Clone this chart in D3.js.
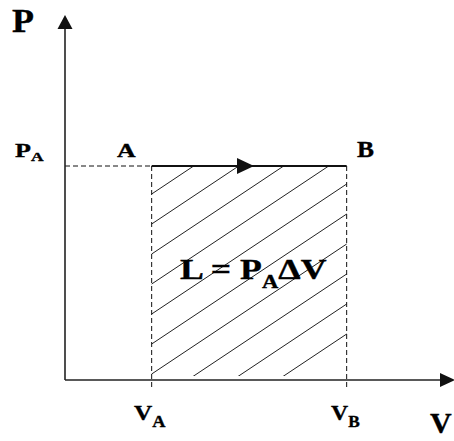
<!DOCTYPE html>
<html>
<head>
<meta charset="utf-8">
<script src="https://cdn.jsdelivr.net/npm/d3@7"></script>
<style>
  html, body { margin: 0; padding: 0; background: #fff; }
  svg { display: block; }
</style>
</head>
<body>
<svg id="chart" width="454" height="441"></svg>
<script>
// ---- data (unitless values) ----
const volumeNames = ["A", "B"];        // states
const volumeValues = [2, 6.5];         // V_A, V_B
const pressureValue = 4;               // P_A (isobaric process)
const axisMax = { v: 9, p: 6.82 };     // arrow tips
const hatchCount = 10;                 // diagonal hatch lines in the work area

const svg = d3.select("#chart");
const W = 454, H = 441;
svg.append("rect").attr("width", W).attr("height", H).attr("fill", "#fff");

const x = d3.scaleLinear().domain([0, 9]).range([65, 65 + 9 * (195 / 4.5)]);
const y = d3.scaleLinear().domain([0, 4]).range([380, 166]);

const x0 = x(0), y0 = y(0);
const xA = x(volumeValues[0]), xB = x(volumeValues[1]), yP = y(pressureValue);
const ink = "#111";

// ---- hatch lines (clipped to the work rectangle) ----
const defs = svg.append("defs");
defs.append("clipPath").attr("id", "clipWork")
  .append("rect").attr("x", xA).attr("y", yP).attr("width", xB - xA).attr("height", 376 - yP);

const hatchG = svg.append("g").attr("clip-path", "url(#clipWork)");
const spacing = 45, slope = 2 / 3;
d3.range(hatchCount).forEach(k => {
  const xt = xA + 42 + spacing * k;
  hatchG.append("line")
    .attr("x1", xt + 200).attr("y1", yP - 200 * slope)
    .attr("x2", xt - 400).attr("y2", yP + 400 * slope)
    .attr("stroke", "#222").attr("stroke-width", 1);
});

// ---- dashed guide lines ----
const dash = "5,3";
svg.append("line").attr("x1", x0).attr("x2", xA).attr("y1", yP).attr("y2", yP)
  .attr("stroke", ink).attr("stroke-width", 1).attr("stroke-dasharray", dash);
[xA, xB].forEach(xx => {
  svg.append("line").attr("x1", xx).attr("x2", xx).attr("y1", yP).attr("y2", y0 + 10)
    .attr("stroke", ink).attr("stroke-width", 1).attr("stroke-dasharray", dash);
});

// ---- axes ----
svg.append("line").attr("x1", x0).attr("x2", x(axisMax.v) - 14).attr("y1", y0).attr("y2", y0)
  .attr("stroke", "#222").attr("stroke-width", 1.6);
svg.append("line").attr("x1", x0).attr("x2", x0).attr("y1", y0).attr("y2", 27)
  .attr("stroke", "#222").attr("stroke-width", 1.6);
const xTip = 455;
svg.append("path").attr("d", `M${xTip},${y0} L${xTip - 15},${y0 - 7} L${xTip - 15},${y0 + 7} Z`).attr("fill", ink);
svg.append("path").attr("d", `M${x0},15 L${x0 - 7.5},29 L${x0 + 7.5},29 Z`).attr("fill", ink);

// ---- isobaric process line A -> B ----
svg.append("line").attr("x1", xA).attr("x2", xB).attr("y1", yP).attr("y2", yP)
  .attr("stroke", ink).attr("stroke-width", 2);
const tip = 254;
svg.append("path").attr("d", `M${tip},${yP} L${tip - 17},${yP - 8} L${tip - 17},${yP + 8} Z`).attr("fill", ink);

// ---- labels ----
function label(parts, lx, baseline, targetW) {
  const g = svg.append("g").attr("transform", `translate(${lx},${baseline})`);
  const t = g.append("text").attr("x", 0).attr("y", 0)
    .attr("font-family", "'Liberation Serif', 'Times New Roman', serif")
    .attr("font-weight", "bold").attr("fill", "#000")
    .attr("stroke", "#000").attr("stroke-width", 0.35);
  parts.forEach(p => {
    t.append("tspan").attr("font-size", p.size).attr("dy", p.dy || 0).text(p.t);
  });
  if (targetW) {
    const w = t.node().getBBox().width;
    const sx = targetW / w;
    g.attr("transform", `translate(${lx},${baseline}) scale(${sx},1)`);
  }
  return g;
}

label([{ t: "P", size: 34 }], 12, 32, 22);
label([{ t: "V", size: 30 }], 430, 433, 22);
label([{ t: "P", size: 18 }, { t: "A", size: 12, dy: 4 }], 15, 157, 29);
label([{ t: volumeNames[0], size: 19 }], 117, 157, 19);
label([{ t: volumeNames[1], size: 23 }], 357, 157, 17);
label([{ t: "V", size: 22 }, { t: "A", size: 16, dy: 7 }], 134, 420, 32);
label([{ t: "V", size: 22 }, { t: "B", size: 16, dy: 7 }], 331, 420, 29);
label([{ t: "L = P", size: 30 }, { t: "A", size: 19, dy: 9 }, { t: "ΔV", size: 30, dy: -9 }], 180, 279, 147);
</script>
</body>
</html>
